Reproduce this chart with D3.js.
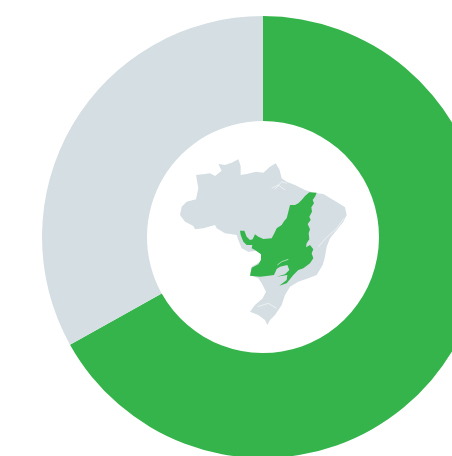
<!DOCTYPE html>
<html><head><meta charset="utf-8">
<script src="https://cdn.jsdelivr.net/npm/d3@7/dist/d3.min.js"></script>
<style>html,body{margin:0;padding:0;background:#fff;overflow:hidden}svg{display:block}</style>
</head><body>
<script>
const categories = ["Cerrado", "Other"];
const shares = [66.9, 33.1];
const colors = ["#34b44b", "#d5dee3"];
// Map shapes, in map units
const brazilOutline = [[145,42],[165,45],[185,38],[205,28],[212,48],[212,75],[230,72],[258,65],[280,68],[300,50],[317,40],[328,58],[335,85],[350,95],[375,105],[405,120],[430,128],[460,132],[490,150],[510,162],[525,172],[530,195],[520,215],[500,240],[480,265],[470,290],[465,320],[458,345],[440,375],[415,385],[385,395],[360,410],[345,435],[335,465],[315,495],[300,510],[292,525],[285,510],[265,495],[240,485],[255,465],[278,445],[288,425],[275,400],[265,385],[240,375],[245,350],[270,335],[275,315],[262,302],[235,305],[215,295],[205,270],[200,255],[165,250],[140,235],[135,225],[100,235],[75,238],[70,228],[45,215],[30,195],[35,170],[50,155],[78,148],[85,115],[78,75],[105,72],[120,70],[135,78],[155,62]];
const cerradoOutline = [[210,242],[223,242],[230,260],[240,270],[248,268],[255,253],[265,260],[280,267],[305,265],[313,250],[320,235],[335,225],[343,212],[350,205],[355,185],[360,165],[375,165],[385,160],[395,150],[405,138],[418,127],[440,128],[435,140],[428,150],[432,160],[424,172],[426,185],[418,200],[422,210],[413,222],[420,238],[416,250],[418,268],[410,280],[408,292],[420,285],[430,298],[425,310],[430,325],[420,340],[400,355],[385,360],[370,375],[350,400],[328,407],[350,390],[352,375],[320,380],[345,373],[358,360],[352,345],[330,350],[320,357],[312,375],[290,378],[270,380],[240,377],[245,353],[265,343],[273,330],[273,313],[255,300],[245,295],[247,285],[230,285],[220,275],[212,255]];
const riverLines = [
  [[305,115],[325,105],[345,120]],[[315,118],[335,95],[350,100]],
  [[322,345],[335,335],[355,328]],
  [[445,290],[470,262],[500,235],[522,205]],
  [[262,470],[295,460],[320,475]]
];

const width = 452, height = 456;
const cx = 263, cy = 237, outerR = 221, innerR = 116;

const svg = d3.select("body").append("svg").attr("width", width).attr("height", height);
const g = svg.append("g").attr("transform", `translate(${cx},${cy})`);
const pie = d3.pie().sort(null)(shares);
const arc = d3.arc().innerRadius(innerR).outerRadius(outerR);
g.selectAll("path").data(pie).join("path").attr("d", arc).attr("fill", (d, i) => colors[i]);

const mx = d3.scaleLinear().domain([0, 570]).range([170, 360]);
const my = d3.scaleLinear().domain([0, 540]).range([150, 330]);
const poly = d3.line().x(d => mx(d[0])).y(d => my(d[1]));
const area = pts => poly(pts) + "Z";
svg.append("path").attr("d", area(brazilOutline)).attr("fill", colors[1]);
svg.append("path").attr("d", area(cerradoOutline)).attr("fill", colors[0]);
svg.selectAll("path.river").data(riverLines).join("path").attr("class", "river")
  .attr("d", poly).attr("fill", "none").attr("stroke", "#fff").attr("stroke-width", 0.7).attr("stroke-opacity", 0.8);
</script>
</body></html>
